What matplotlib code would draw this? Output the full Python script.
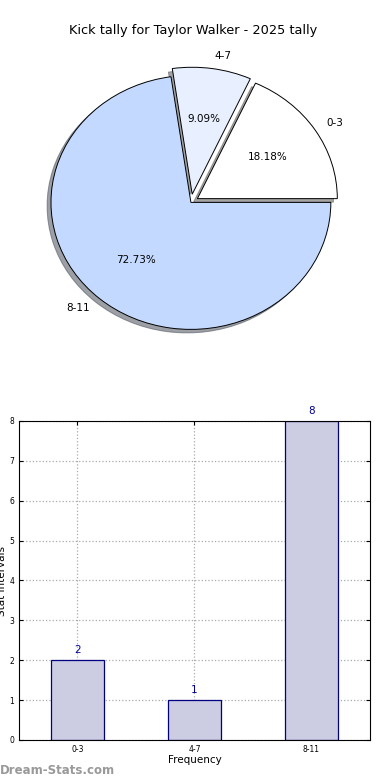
import matplotlib
matplotlib.use('Agg')
import matplotlib.pyplot as plt

categories = ['0-3', '4-7', '8-11']
counts = [2, 1, 8]
pie_colors = ['#ffffff', '#e8f0ff', '#c4d9ff']
explode = [0.055, 0.065, 0]

fig = plt.figure(figsize=(3.9, 7.8), dpi=100)

# pie (slightly squashed, like the original)
ax1 = fig.add_axes([0.041, 0.537, 0.897, 0.407])
ax1.pie(counts, labels=categories, colors=pie_colors, explode=explode,
        autopct='%1.2f%%', shadow=True, startangle=0,
        wedgeprops={'edgecolor': 'black', 'linewidth': 0.7},
        textprops={'fontsize': 7.5})
ax1.set_aspect('auto')
ax1.set_xlim(-1.25, 1.25)
ax1.set_ylim(-1.25, 1.25)
fig.text(0.494, 0.961, 'Kick tally for Taylor Walker - 2025 tally', ha='center', va='center', fontsize=9.3)

# bars
ax2 = fig.add_axes([0.0487, 0.0513, 0.9, 0.409])
x = range(len(categories))
ax2.bar(x, counts, width=0.45, color='#ccccE3', edgecolor='#000080', linewidth=0.9, zorder=2)
for i, v in zip(x, counts):
    ax2.text(i, v + 0.12, str(v), ha='center', va='bottom', color='#000099', fontsize=7.5)
ax2.set_xlim(-0.5, 2.5)
ax2.set_ylim(0, 8)
ax2.set_xticks(list(x))
ax2.set_xticklabels(categories)
ax2.tick_params(labelsize=5.5, direction='in', top=True, right=True, length=3)
ax2.grid(True, linestyle=':', color='#aaaaaa', linewidth=0.9, zorder=0)
ax2.set_axisbelow(True)
ax2.set_xlabel('Frequency', fontsize=7.5, labelpad=1)
fig.text(0.006, 0.255, 'Stat intervals', rotation=90, ha='center', va='center', fontsize=7.5)

fig.text(0.0, 0.012, 'Dream-Stats.com', color='#999999', fontsize=8.5, fontweight='bold', ha='left', va='center')

fig.savefig('out.png', dpi=100)
